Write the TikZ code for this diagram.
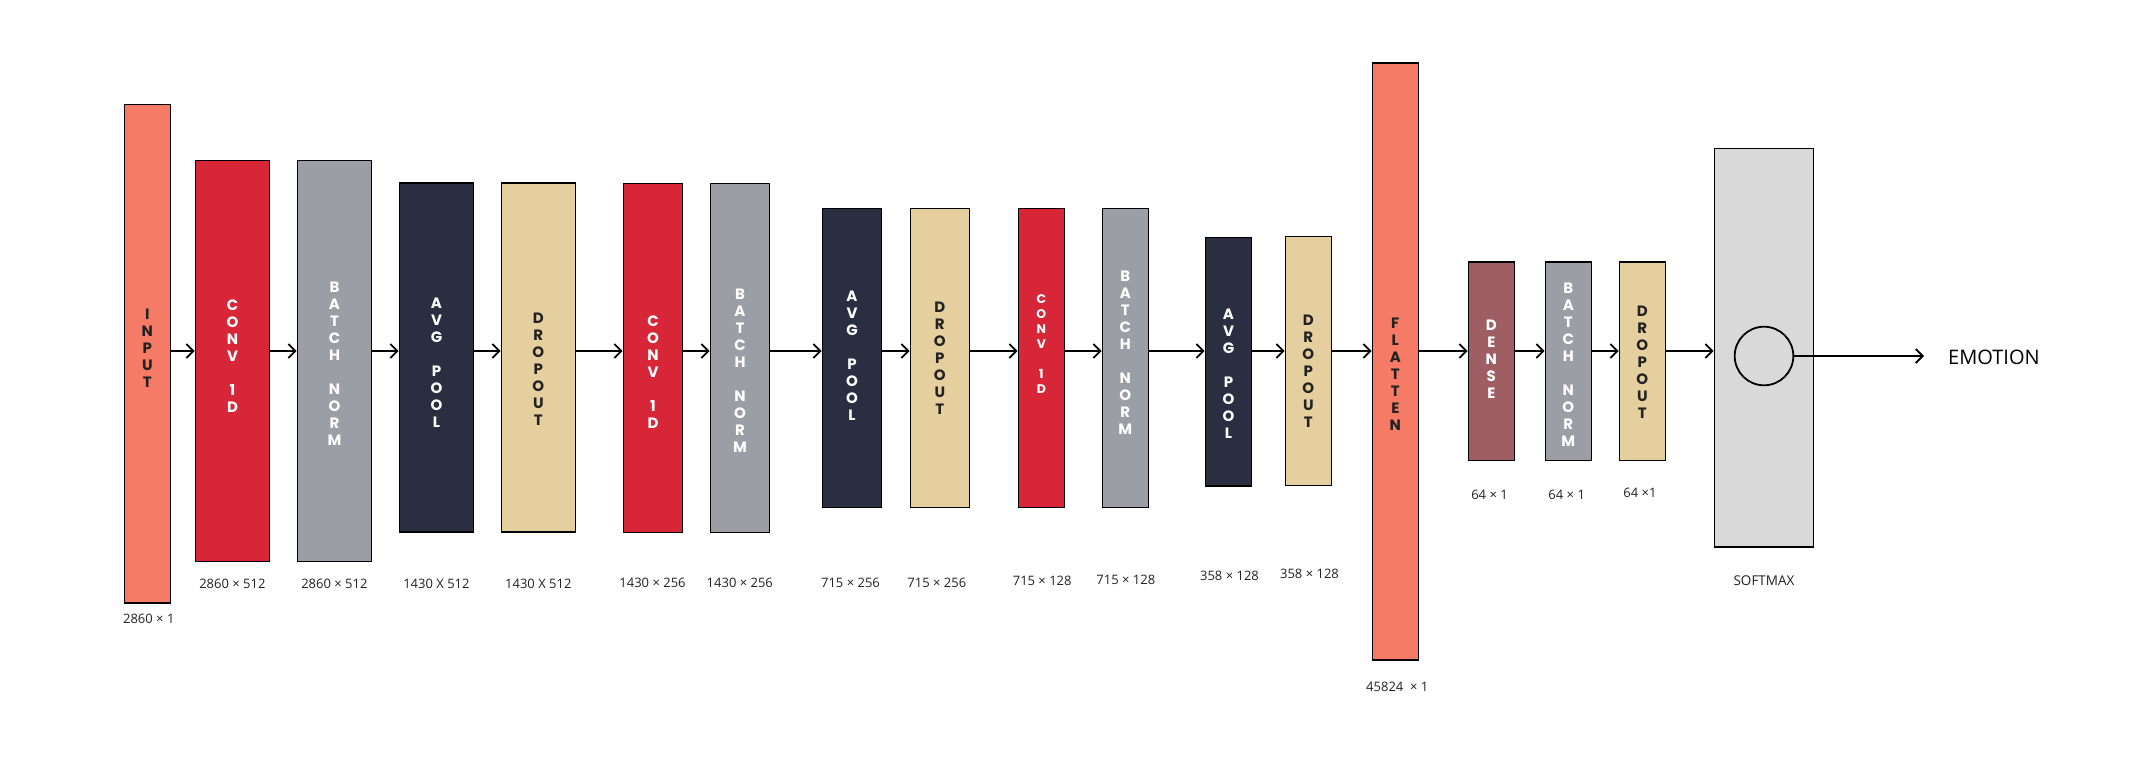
\documentclass[tikz,border=0pt]{standalone}
\usepackage{fontspec}
\setmainfont{Open Sans}
\newfontfamily\boxfont{Poppins}
\usetikzlibrary{arrows.meta}
\definecolor{salmon}{HTML}{F67B66}
\definecolor{convred}{HTML}{D72638}
\definecolor{bngray}{HTML}{9C9EA6}
\definecolor{navy}{HTML}{292F40}
\definecolor{tanc}{HTML}{E6CF9E}
\definecolor{densec}{HTML}{9E5E63}
\definecolor{smgray}{HTML}{D9D9D9}
\definecolor{ink}{HTML}{222222}
\tikzset{
 lbox/.style={draw=black, line width=1.3pt, inner sep=0pt, rectangle},
 ltxt/.style={font=\boxfont\bfseries\fontsize{15}{17}\selectfont, align=center, inner sep=0pt},
 smalltxt/.style={font=\boxfont\bfseries\fontsize{12.5}{15}\selectfont, align=center, inner sep=0pt},
 dim/.style={font=\fontsize{13}{15}\selectfont, text=ink, inner sep=0pt},
 arr/.style={-{Straight Barb[length=7pt,width=14pt]}, line width=1.8pt},
}
\newcommand{\lyr}[6]{\pgfmathsetmacro{\lyrw}{#4-#2}\pgfmathsetmacro{\lyrh}{#5-#3}%
 \node[lbox,fill=#6,minimum width=\lyrw pt,minimum height=\lyrh pt] (#1) at ({(#2+#4)/2},{(#3+#5)/2}) {};}
\begin{document}
\begin{tikzpicture}[x=1pt,y=-1pt]
\fill[white] (0,0) rectangle (2142,761);
\useasboundingbox (0,0) rectangle (2142,761);
\lyr{input}{124.3}{104.5}{170.3}{603}{salmon}
\lyr{conv1}{195.3}{160.2}{269.7}{561.4}{convred}
\lyr{bn1}{297.3}{160.2}{371.7}{561.4}{bngray}
\lyr{avg1}{399.3}{183}{473.7}{532}{navy}
\lyr{drop1}{501.3}{183}{575.3}{532}{tanc}
\lyr{conv2}{623.3}{183.3}{682.7}{532.3}{convred}
\lyr{bn2}{710.3}{183.3}{769.7}{532.3}{bngray}
\lyr{avg2}{822.3}{208.3}{881.7}{507.3}{navy}
\lyr{drop2}{910.3}{208.3}{969.3}{507.3}{tanc}
\lyr{conv3}{1018.3}{208.3}{1064.3}{507.3}{convred}
\lyr{bn3}{1102.3}{208.3}{1148.3}{507.3}{bngray}
\lyr{avg3}{1205.3}{237.3}{1251.7}{486}{navy}
\lyr{drop3}{1285.3}{236.3}{1331.3}{485.3}{tanc}
\lyr{flat}{1372.3}{63}{1418.3}{660}{salmon}
\lyr{dense}{1468.3}{262}{1514.3}{460.5}{densec}
\lyr{bn4}{1545.3}{262}{1591.3}{460.5}{bngray}
\lyr{drop4}{1619.3}{262}{1665.3}{460.5}{tanc}
\lyr{soft}{1714.3}{148.3}{1813.7}{547}{smgray}
% box texts
\node[ltxt,text=ink] (inputt) at (input.center |- 0,348) {I\\N\\P\\U\\T};
\node[ltxt,text=white] (conv1t) at (conv1.center |- 0,356) {C\\O\\N\\V\\[17pt]1\\D};
\node[ltxt,text=white] (bn1t) at (bn1.center |- 0,363.8) {B\\A\\T\\C\\H\\[17pt]N\\O\\R\\M};
\node[ltxt,text=white] (avg1t) at (avg1.center |- 0,362.9) {A\\V\\G\\[17pt]P\\O\\O\\L};
\node[ltxt,text=ink] (drop1t) at (drop1.center |- 0,368.8) {D\\R\\O\\P\\O\\U\\T};
\node[ltxt,text=white] (conv2t) at (conv2.center |- 0,372.5) {C\\O\\N\\V\\[17pt]1\\D};
\node[ltxt,text=white] (bn2t) at (bn2.center |- 0,371) {B\\A\\T\\C\\H\\[17pt]N\\O\\R\\M};
\node[ltxt,text=white] (avg2t) at (avg2.center |- 0,355.5) {A\\V\\G\\[17pt]P\\O\\O\\L};
\node[ltxt,text=ink] (drop2t) at (drop2.center |- 0,358.5) {D\\R\\O\\P\\O\\U\\T};
\node[smalltxt,text=white] (conv3t) at (conv3.center |- 0,344) {C\\O\\N\\V\\[15pt]1\\D};
\node[ltxt,text=white] (bn3t) at (bn3.center |- 0,352.5) {B\\A\\T\\C\\H\\[17pt]N\\O\\R\\M};
\node[ltxt,text=white] (avg3t) at (avg3.center |- 0,373.5) {A\\V\\G\\[17pt]P\\O\\O\\L};
\node[ltxt,text=ink] (drop3t) at (drop3.center |- 0,370.8) {D\\R\\O\\P\\O\\U\\T};
\node[ltxt,text=ink] (flatt) at (flat.center |- 0,374) {F\\L\\A\\T\\T\\E\\N};
\node[ltxt,text=white] (denset) at (dense.center |- 0,358.8) {D\\E\\N\\S\\E};
\node[ltxt,text=white] (bn4t) at (bn4.center |- 0,364.5) {B\\A\\T\\C\\H\\[17pt]N\\O\\R\\M};
\node[ltxt,text=ink] (drop4t) at (drop4.center |- 0,362) {D\\R\\O\\P\\O\\U\\T};
% dimension labels
\node[dim] (inputd) at (148.8,618.6) {2860 × 1};
\node[dim] (conv1d) at (232.4,583.5) {2860 × 512};
\node[dim] (bn1d) at (334.4,583.5) {2860 × 512};
\node[dim] (avg1d) at (436.4,583.5) {1430 X 512};
\node[dim] (drop1d) at (538.3,583.5) {1430 X 512};
\node[dim] (conv2d) at (652.5,583.3) {1430 × 256};
\node[dim] (bn2d) at (739.8,583.3) {1430 × 256};
\node[dim] (avg2d) at (850.5,583.3) {715 × 256};
\node[dim] (drop2d) at (936.8,583.3) {715 × 256};
\node[dim] (conv3d) at (1042.2,580.7) {715 × 128};
\node[dim] (bn3d) at (1125.8,580) {715 × 128};
\node[dim] (avg3d) at (1229.5,576) {358 × 128};
\node[dim] (drop3d) at (1309.5,574.3) {358 × 128};
\node[dim] (flatd) at (1397.3,686.5) {45824\ \ × 1};
\node[dim] (densed) at (1489.5,495) {64 × 1};
\node[dim] (bn4d) at (1566.7,495) {64 × 1};
\node[dim] (drop4d) at (1640,493) {64 ×1};
\node[dim,font=\fontsize{13.5}{16}\selectfont] (softd) at (1764,581) {SOFTMAX};
% softmax unit and output
\node[circle,draw=black,line width=1.8pt,minimum size=58.6pt,inner sep=0pt] (circ) at (1764,356) {};
\node[font=\fontsize{20}{24}\selectfont,anchor=west,inner sep=0pt,text=black] (emo) at (1948,357) {EMOTION};
% connectors
\coordinate (ax) at (0,351);
\foreach \a/\b in {input/conv1,conv1/bn1,bn1/avg1,avg1/drop1,drop1/conv2,conv2/bn2,bn2/avg2,avg2/drop2,drop2/conv3,conv3/bn3,bn3/avg3,avg3/drop3,drop3/flat,flat/dense,dense/bn4,bn4/drop4,drop4/soft}
  \draw[arr] (\a.east |- ax) -- (\b.west |- ax);
\draw[arr,shorten >=24pt] (circ.east) -- (emo.west |- circ.east);
\end{tikzpicture}
\end{document}
